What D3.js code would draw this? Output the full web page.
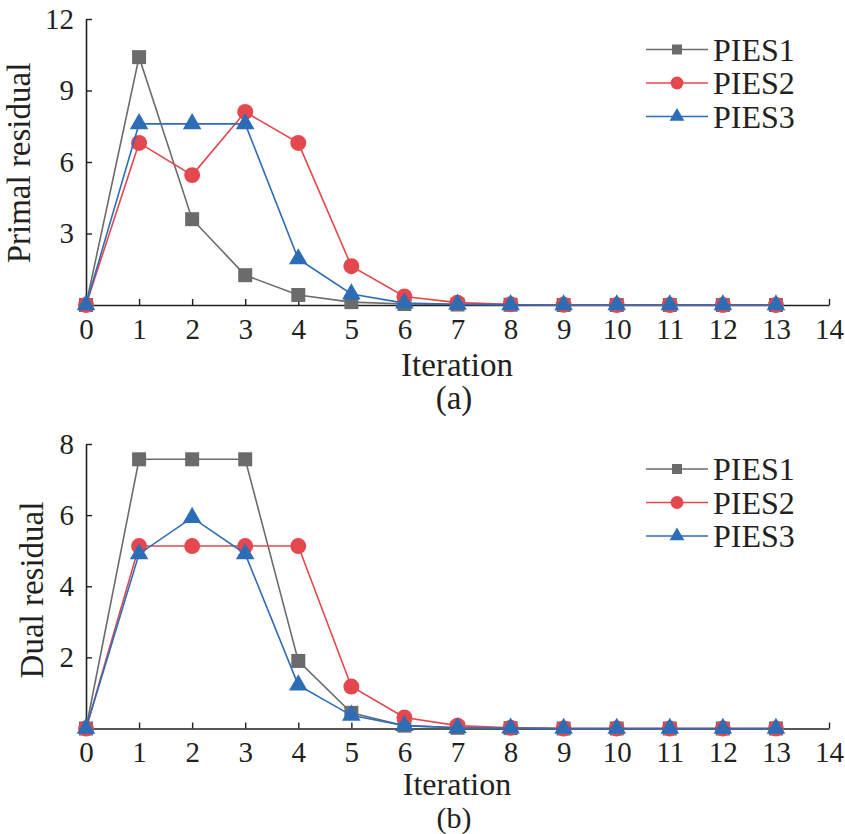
<!DOCTYPE html>
<html>
<head>
<meta charset="utf-8">
<script src="https://cdn.jsdelivr.net/npm/d3@7"></script>
<style>
  body { margin: 0; background: #fff; }
</style>
</head>
<body>
<svg width="845" height="834"></svg>
<script>
// data
const iterations = [0, 1, 2, 3, 4, 5, 6, 7, 8, 9, 10, 11, 12, 13];
const seriesNames = ["PIES1", "PIES2", "PIES3"];
const xTicks = [0, 1, 2, 3, 4, 5, 6, 7, 8, 9, 10, 11, 12, 13, 14];

// (a) primal residual
const primal1 = [0, 10.4, 3.6, 1.25, 0.42, 0.12, 0.04, 0.02, 0.01, 0, 0, 0, 0, 0];
const primal2 = [0, 6.8, 5.45, 8.1, 6.8, 1.63, 0.36, 0.1, 0.03, 0.01, 0, 0, 0, 0];
const primal3 = [0, 7.6, 7.6, 7.6, 1.93, 0.46, 0.08, 0.03, 0.01, 0, 0, 0, 0, 0];
const primalTicks = [3, 6, 9, 12];

// (b) dual residual
const dual1 = [0, 7.57, 7.57, 7.57, 1.9, 0.44, 0.08, 0.02, 0.01, 0, 0, 0, 0, 0];
const dual2 = [0, 5.13, 5.13, 5.13, 5.13, 1.18, 0.31, 0.08, 0.02, 0, 0, 0, 0, 0];
const dual3 = [0, 4.91, 5.93, 4.91, 1.22, 0.37, 0.08, 0.02, 0.01, 0, 0, 0, 0, 0];
const dualTicks = [2, 4, 6, 8];

const colors = ["#6b6b6d", "#e4474e", "#2d6db6"];
const shapes = [d3.symbolSquare, d3.symbolCircle, d3.symbolTriangle];
const markerSize = [196, 200, 150];
const legendSize = [100, 130, 95];
const FONT = "Liberation Serif";
const INK = "#231f20";

const svg = d3.select("svg");

function drawPanel(cfg) {
  const x = d3.scaleLinear().domain([0, 14]).range([86, 829]);
  const y = d3.scaleLinear().domain([0, cfg.ymax]).range([cfg.bottom, cfg.top]);

  const g = svg.append("g");

  // axes, ticks point inward
  const xAxis = d3.axisBottom(x).tickValues(xTicks).tickSizeInner(-6).tickSizeOuter(0).tickPadding(13);
  const yAxis = d3.axisLeft(y).tickValues(cfg.ticks).tickSizeInner(-6).tickSizeOuter(0).tickPadding(12);

  const gx = g.append("g").attr("transform", `translate(0,${cfg.bottom})`).call(xAxis);
  const gy = g.append("g").attr("transform", "translate(86,0)").call(yAxis);
  [gx, gy].forEach(a => {
    a.attr("font-family", FONT);
    a.select(".domain").attr("stroke", INK).attr("stroke-width", 1.6);
    a.selectAll(".tick line").attr("stroke", INK).attr("stroke-width", 1.4);
    a.selectAll(".tick text").attr("font-size", 29).attr("fill", INK);
  });

  // lines + markers
  const line = d3.line().x((d, i) => x(iterations[i])).y(d => y(d));
  cfg.series.forEach((vals, k) => {
    g.append("path")
      .datum(vals)
      .attr("fill", "none")
      .attr("stroke", colors[k])
      .attr("stroke-width", 1.6)
      .attr("d", line);
    g.selectAll(null)
      .data(vals)
      .enter()
      .append("path")
      .attr("d", d3.symbol().type(shapes[k]).size(markerSize[k]))
      .attr("transform", (d, i) => `translate(${x(iterations[i])},${y(d)})`)
      .attr("fill", colors[k]);
  });

  // axis titles
  const t = g.append("g").attr("font-family", FONT).attr("fill", INK);
  t.append("text")
    .attr("x", 457).attr("y", cfg.bottom + cfg.xTitleDy)
    .attr("text-anchor", "middle").attr("font-size", cfg.xTitleSize)
    .text("Iteration");
  t.append("text")
    .attr("x", 454).attr("y", cfg.bottom + cfg.tagDy)
    .attr("text-anchor", "middle").attr("font-size", cfg.tagSize)
    .text(cfg.tag);
  t.append("text")
    .attr("transform", `translate(${cfg.titleX},${cfg.titleY}) rotate(-90)`)
    .attr("text-anchor", "middle").attr("font-size", 33)
    .text(cfg.title);

  // legend
  const lg = g.append("g").attr("font-family", FONT);
  seriesNames.forEach((name, k) => {
    const ly = cfg.legendY + k * 33.5;
    lg.append("line").attr("x1", 646).attr("x2", 708).attr("y1", ly).attr("y2", ly)
      .attr("stroke", colors[k]).attr("stroke-width", 1.6);
    lg.append("path")
      .attr("d", d3.symbol().type(shapes[k]).size(legendSize[k]))
      .attr("transform", `translate(677,${ly})`)
      .attr("fill", colors[k]);
    lg.append("text").attr("x", 713).attr("y", ly + 11).attr("font-size", 32)
      .attr("fill", INK).text(name);
  });
}

drawPanel({
  top: 19, bottom: 305, ymax: 12, ticks: primalTicks,
  series: [primal1, primal2, primal3],
  title: "Primal residual", titleX: 30, titleY: 163,
  xTitleDy: 71, xTitleSize: 33, tag: "(a)", tagDy: 104, tagSize: 33, legendY: 49.5
});

drawPanel({
  top: 444, bottom: 728.5, ymax: 8, ticks: dualTicks,
  series: [dual1, dual2, dual3],
  title: "Dual residual", titleX: 43, titleY: 590,
  xTitleDy: 66, xTitleSize: 32, tag: "(b)", tagDy: 99.5, tagSize: 30, legendY: 469
});
</script>
</body>
</html>
